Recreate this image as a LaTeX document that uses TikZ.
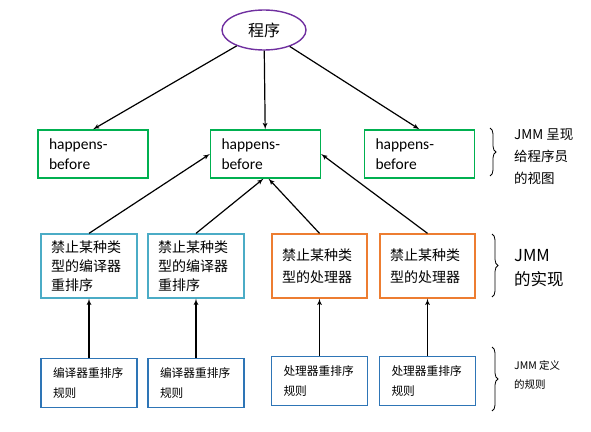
\documentclass[tikz,border=0pt]{standalone}
\usepackage{fontspec}
\setmainfont{Carlito}
\newfontfamily\cjk{Noto Sans CJK SC}
\usetikzlibrary{shapes.geometric, arrows, decorations.pathreplacing}

\definecolor{progpurple}{RGB}{112,48,160}
\definecolor{hbgreen}{RGB}{0,176,80}
\definecolor{compcyan}{RGB}{75,172,198}
\definecolor{procorange}{RGB}{237,125,49}
\definecolor{ruleblue}{RGB}{46,117,182}

\begin{document}
\begin{tikzpicture}[
    x=1pt, y=-1pt,
    progblock/.style={ellipse, draw=progpurple, line width=1.4pt, minimum width=84pt, minimum height=40pt, font=\cjk\fontsize{16}{18}\selectfont},
    hbblock/.style={rectangle, draw=hbgreen, line width=1.3pt, minimum width=110pt, minimum height=48pt, text width=88pt, inner xsep=11pt, align=left, font=\fontsize{15.5}{20}\selectfont},
    compblock/.style={rectangle, draw=compcyan, line width=1.3pt, minimum width=96pt, minimum height=64pt, text width=76pt, inner xsep=10pt, align=left, font=\cjk\fontsize{14}{19}\selectfont},
    procblock/.style={rectangle, draw=procorange, line width=1.3pt, minimum width=95pt, minimum height=64pt, text width=75pt, inner xsep=10pt, align=left, font=\cjk\fontsize{14}{22}\selectfont},
    ruleblock/.style={rectangle, draw=ruleblue, line width=1.5pt, minimum width=96pt, minimum height=49pt, text width=72pt, inner xsep=12pt, align=left, font=\cjk\fontsize{11.7}{20}\selectfont},
    sidelabel/.style={anchor=west, align=left, inner sep=0pt},
    bracket/.style={draw, line width=0.8pt, decorate, decoration={brace, amplitude=6pt}},
    line/.style={draw, -latex', line width=1.2pt}
]
    \useasboundingbox (0,0) rectangle (591,431);

    % Program
    \node [progblock] (prog) at (264,30) {程序};

    % happens-before nodes
    \node [hbblock] (hbL) at (93,154) {happens-\\before};
    \node [hbblock] (hbM) at (265.5,154) {happens-\\before};
    \node [hbblock] (hbR) at (419.5,154) {happens-\\before};

    % JMM implementation nodes
    \node [compblock] (comp1) at (89,266) {禁止某种类\\型的编译器\\重排序};
    \node [compblock] (comp2) at (196,266) {禁止某种类\\型的编译器\\重排序};
    \node [procblock] (proc1) at (319.5,266) {禁止某种类\\型的处理器};
    \node [procblock] (proc2) at (427.5,266) {禁止某种类\\型的处理器};

    % Rule nodes
    \node [ruleblock] (rule1) at (89,383) {编译器重排序\\规则};
    \node [ruleblock] (rule2) at (196,383) {编译器重排序\\规则};
    \node [ruleblock] (rule3) at (319.5,381) {处理器重排序\\规则};
    \node [ruleblock] (rule4) at (427.5,381) {处理器重排序\\规则};

    % Side labels
    \node [sidelabel, font=\cjk\fontsize{13.5}{22}\selectfont] (viewlbl) at (514,157) {JMM 呈现\\给程序员\\的视图};
    \node [sidelabel, font=\cjk\fontsize{16.5}{24}\selectfont] (impllbl) at (514,268) {JMM\\的实现};
    \node [sidelabel, font=\cjk\fontsize{10.5}{19}\selectfont] (rulelbl) at (514,375) {JMM 定义\\的规则};

    % Braces
    \path [bracket] (490,128) -- (490,176);
    \path [bracket] (492,234) -- (492,297);
    \path [bracket] (492,347) -- (492,411);

    % Connecting lines
    \path [line] (prog) -- (hbL.north);
    \path [line] (prog) -- (hbM);
    \path [line] (prog) -- (hbR.north);
    \path [line] (comp1.north) -- (hbM.west);
    \path [line] (comp2.north) -- ([xshift=-2pt]hbM.south);
    \path [line] (proc1.north) -- ([xshift=3pt]hbM.south);
    \path [line] (proc2.north) -- (hbM.east);
    \path [line] (rule1) -- (comp1);
    \path [line] (rule2) -- (comp2);
    \path [line] (rule3) -- (proc1);
    \path [line] (rule4) -- (proc2);
\end{tikzpicture}
\end{document}
